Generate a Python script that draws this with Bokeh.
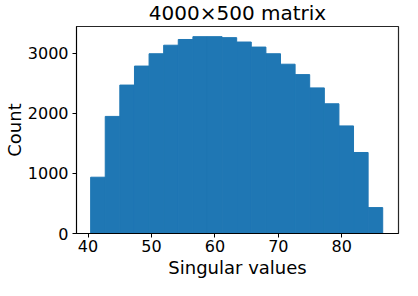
from bokeh.plotting import figure
from bokeh.models import FixedTicker, Range1d
from bokeh.embed import file_html
from bokeh.resources import INLINE

# Histogram bin edges (singular values) and counts per bin
bin_edges = [40.41, 42.71, 45.01, 47.32, 49.62, 51.92, 54.22, 56.53, 58.83, 61.13,
             63.43, 65.73, 68.04, 70.34, 72.64, 74.94, 77.25, 79.55, 81.85, 84.15, 86.45]
counts = [936, 1947, 2468, 2784, 2989, 3131, 3226, 3273, 3273, 3257,
          3184, 3100, 2989, 2815, 2642, 2421, 2157, 1789, 1347, 431]
x_ticks = [40, 50, 60, 70, 80]
y_ticks = [0, 1000, 2000, 3000]

FONT = "DejaVu Sans"

p = figure(width=402, height=280, output_backend="svg", toolbar_location=None,
           x_range=Range1d(38.18, 88.94), y_range=Range1d(0, 3442),
           min_border_left=50, min_border_right=4, min_border_top=0, min_border_bottom=30)

p.quad(left=bin_edges[:-1], right=bin_edges[1:], top=counts, bottom=0,
       fill_color="#1f77b4", line_color="#1f77b4", line_width=1)

p.title.text = "4000×500 matrix"
p.title.align = "center"
p.title.vertical_align = "top"
p.title.text_font = FONT
p.title.text_font_size = "20px"
p.title.text_font_style = "normal"
p.title.text_color = "black"
p.title.standoff = 0

p.grid.visible = False
p.outline_line_color = "black"
p.outline_line_width = 1.2
p.outline_line_alpha = 0.85

p.xaxis.ticker = FixedTicker(ticks=x_ticks)
p.yaxis.ticker = FixedTicker(ticks=y_ticks)
p.xaxis.axis_label = "Singular values"
p.yaxis.axis_label = "Count"
for ax in (p.xaxis, p.yaxis):
    ax.axis_label_text_font = FONT
    ax.axis_label_text_font_size = "18px"
    ax.axis_label_text_font_style = "normal"
    ax.axis_label_text_color = "black"
    ax.major_label_text_font = FONT
    ax.major_label_text_font_size = "16px"
    ax.major_label_text_color = "black"
    ax.minor_tick_line_color = None
    ax.major_tick_in = 0
    ax.major_tick_out = 4
    ax.major_tick_line_color = "black"
    ax.axis_line_color = "black"
p.yaxis.axis_label_standoff = 0
p.xaxis.axis_label_standoff = 2
p.yaxis.major_label_standoff = 4
p.xaxis.major_label_standoff = 2

open("out.html", "w").write(file_html(p, INLINE))
